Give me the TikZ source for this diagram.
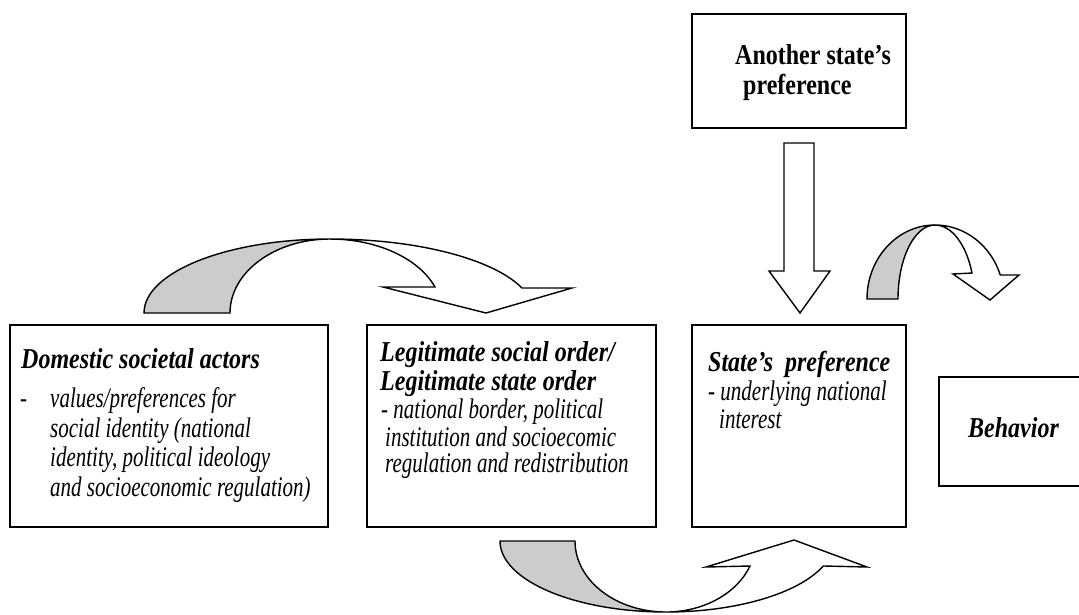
\documentclass[tikz,border=0pt]{standalone}
\usepackage{fontspec}
\setmainfont{Liberation Serif}
\newcommand{\tallT}[1]{\scalebox{1}[1.2]{#1}}
\newcommand{\tallB}[1]{\scalebox{1}[1.35]{#1}}
\begin{document}
\begin{tikzpicture}[x=1pt,y=-1pt,
  box/.style={draw, line width=1.8pt, inner sep=0pt, outer sep=0pt, rectangle},
  ttl/.style={anchor=base west, inner sep=0pt, font=\fontsize{24}{28}\selectfont\bfseries\itshape},
  ttlup/.style={anchor=base west, inner sep=0pt, font=\fontsize{24}{28}\selectfont\bfseries},
  bdy/.style={anchor=base west, inner sep=0pt, font=\fontsize{21}{25}\selectfont\itshape},
  backband/.style={draw, line width=1.4pt, fill=gray!40, line join=miter},
  frontband/.style={draw, line width=1.4pt, fill=white, line join=miter},
]
\useasboundingbox (0,0) rectangle (1079,614);
\fill[white] (0,0) rectangle (1079,614);
\clip (0,0) rectangle (1079,614);

% boxes
\node[box, minimum width=318pt, minimum height=202pt] (dom) at (169,426) {};
\node[box, minimum width=289pt, minimum height=202pt] (leg) at (511.5,426) {};
\node[box, minimum width=214pt, minimum height=202pt] (pref) at (799,426) {};
\node[box, minimum width=214pt, minimum height=114pt] (other) at (799,71) {};
\node[box, minimum width=151pt, minimum height=109pt] (beh) at (1014.5,431.5) {};

% texts box 1
\node[ttl] (d1) at (21,368) {\tallT{Domestic societal actors}};
\node[bdy] (d2) at (20,407) {\tallB{\makebox[30pt][l]{-}values/preferences for}};
\node[bdy] (d3) at (50,437) {\tallB{social identity (national}};
\node[bdy] (d4) at (50,466) {\tallB{identity, political ideology}};
\node[bdy] (d5) at (50,496) {\tallB{and socioeconomic regulation)}};

% texts box 2
\node[ttl] (l1) at (380,361) {\tallT{Legitimate social order/}};
\node[ttl] (l2) at (380,390) {\tallT{Legitimate state order}};
\node[bdy] (l3) at (381,418) {\tallB{- national border, political}};
\node[bdy] (l4) at (385,446) {\tallB{institution and socioecomic}};
\node[bdy] (l5) at (385,472) {\tallB{regulation and redistribution}};

% texts box 3
\node[ttl] (p1) at (708,371) {\tallT{State’s~ preference}};
\node[bdy] (p2) at (708,400) {\tallB{- underlying national}};
\node[bdy] (p3) at (719,428) {\tallB{interest}};

% another state
\node[ttlup] (o1) at (735,64) {\tallT{Another state’s}};
\node[ttlup] (o2) at (743,94) {\tallT{preference}};

% behavior
\node[ttl] (b1) at (968,437) {\tallT{Behavior}};

% down block arrow from other to pref
\draw[frontband] (784,143) -- (814,143) -- (814,271) -- (830,271) -- (800,313)
  -- (769,271) -- (784,271) -- cycle;

% curved arrow 1 (dom -> leg)
\draw[backband] (144,313) -- (230,313)
  arc[start angle=180, end angle=270, x radius=100, y radius=74]
  arc[start angle=270, end angle=180, x radius=186, y radius=74] -- cycle;
\draw[frontband] (330,239)
  arc[start angle=270, end angle=340.25, x radius=204, y radius=74]
  -- (572,288) -- (486,313) -- (383,287) -- (435,287)
  arc[start angle=339.4, end angle=270, x radius=112, y radius=74] -- cycle;

% curved arrow 2 (leg -> pref, below)
\draw[backband] (500,541) -- (575,541)
  arc[start angle=180, end angle=90, x radius=91, y radius=71]
  arc[start angle=90, end angle=180, x radius=166, y radius=71] -- cycle;
\draw[frontband] (666,612)
  arc[start angle=90, end angle=20.6, x radius=168, y radius=71]
  -- (867,567) -- (794,540) -- (706,567) -- (750,566)
  arc[start angle=20.6, end angle=90, x radius=90, y radius=71] -- cycle;

% curved arrow 3 (pref -> behavior)
\draw[backband] (867,299) -- (898,299)
  arc[start angle=180, end angle=270, x radius=37, y radius=74]
  arc[start angle=270, end angle=180, x radius=68, y radius=74] -- cycle;
\draw[frontband] (935,225)
  arc[start angle=270, end angle=341.1, x radius=69, y radius=74]
  -- (1019,275) -- (990,300) -- (953,274) -- (972,273)
  arc[start angle=339.4, end angle=270, x radius=39.5, y radius=74] -- cycle;
\end{tikzpicture}
\end{document}
